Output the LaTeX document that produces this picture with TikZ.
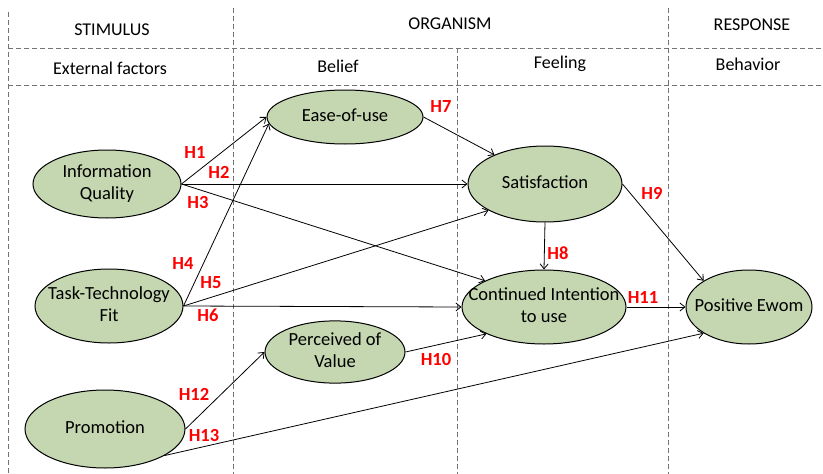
\documentclass[tikz,border=0pt]{standalone}
\usepackage{fontspec}
\setmainfont{Carlito}
\usetikzlibrary{shapes,arrows.meta}
\definecolor{ovalgreen}{RGB}{196,215,176}
\newcommand{\ovaltext}[1]{\makebox[0pt]{\begin{tabular}{@{}c@{}}#1\end{tabular}}}
\tikzset{
  oval/.style={ellipse,draw=black,line width=1pt,fill=ovalgreen,inner sep=0pt,
    font=\fontsize{18.5}{22}\selectfont},
  hyp/.style={text=red,font=\fontsize{18.5}{22}\selectfont\bfseries,inner sep=0pt},
  grid/.style={gray!90!black,dash pattern=on 5pt off 3pt,line width=0.8pt},
  head/.style={font=\fontsize{18}{22}\selectfont,inner sep=0pt},
  link/.style={-{Straight Barb[length=5pt,width=8pt]},line width=0.8pt}
}

\begin{document}
\begin{tikzpicture}[x=1pt,y=-1pt]
\useasboundingbox (0,0) rectangle (823,474);
% frame
\draw[grid] (8,12) -- (8,474);
\draw[grid] (233,8) -- (233,474);
\draw[grid] (457,48) -- (457,474);
\draw[grid] (668,8) -- (668,474);
\draw[grid] (8,48) -- (823,48);
\draw[grid] (8,85) -- (823,85);
% headers
\node[head] (hstim) at (112,30) {STIMULUS};
\node[head] (horg) at (450,24) {ORGANISM};
\node[head] (hresp) at (752,25) {RESPONSE};
\node[head] (hext) at (110,68) {External factors};
\node[head] (hbel) at (338,66) {Belief};
\node[head] (hfeel) at (560,64) {Feeling};
\node[head] (hbeh) at (748,64) {Behavior};
% constructs
\node[oval,minimum width=148pt,minimum height=68pt] (iq) at (107,184) {\ovaltext{Information\\Quality}};
\node[oval,minimum width=148pt,minimum height=74pt] (ttf) at (109,306) {\ovaltext{Task-Technology\\Fit}};
\node[oval,minimum width=160pt,minimum height=78pt] (promo) at (105,429) {\ovaltext{Promotion}};
\node[oval,minimum width=156pt,minimum height=54pt] (ease) at (345,117) {\ovaltext{Ease-of-use}};
\node[oval,minimum width=140pt,minimum height=62pt] (perc) at (335,352) {\ovaltext{Perceived of\\Value}};
\node[oval,minimum width=154pt,minimum height=76pt] (sat) at (545,184) {\ovaltext{Satisfaction}};
\node[oval,minimum width=164pt,minimum height=74pt] (cont) at (544,307) {\ovaltext{Continued Intention\\to use}};
\node[oval,minimum width=126pt,minimum height=74pt] (ewom) at (749,307) {\ovaltext{Positive Ewom}};
% paths
\draw[link] (iq.east) -- (ease.west);
\draw[link] (iq.east) -- (sat.west);
\draw[link] (iq.east) -- (cont.156);
\draw[link] (ttf.east) -- (ease.185);
\draw[link] (ttf.east) -- (sat.205);
\draw[link] (ttf.east) -- (cont.west);
\draw[link] (ease.east) -- (sat.150);
\draw[link] (sat.south) -- (cont.north);
\draw[link] (sat.east) -- (ewom.150);
\draw[link] (perc.east) -- (cont.205);
\draw[link] (cont.east) -- (ewom.west);
\draw[link] (promo.east) -- (perc.west);
\draw[link] (promo.336) -- (ewom.210);
% hypotheses
\node[hyp] (h1) at (195,152) {H1};
\node[hyp] (h2) at (219,172) {H2};
\node[hyp] (h3) at (198,202) {H3};
\node[hyp] (h4) at (183,263) {H4};
\node[hyp] (h5) at (211,283) {H5};
\node[hyp] (h6) at (208,315) {H6};
\node[hyp] (h7) at (441,107) {H7};
\node[hyp] (h8) at (558,253) {H8};
\node[hyp] (h9) at (652,193) {H9};
\node[hyp] (h10) at (436,359) {H10};
\node[hyp] (h11) at (643,297) {H11};
\node[hyp] (h12) at (194,394) {H12};
\node[hyp] (h13) at (204,435) {H13};
\end{tikzpicture}
\end{document}
